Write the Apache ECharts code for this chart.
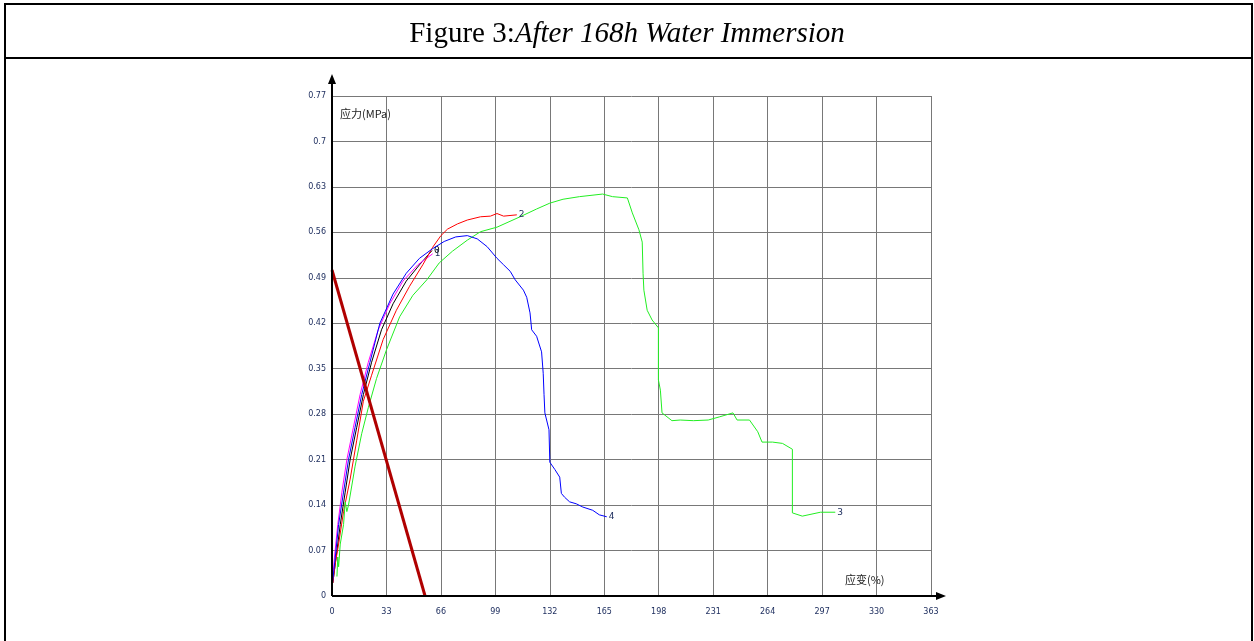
<!DOCTYPE html>
<html><head><meta charset="utf-8">
<script src="https://cdn.jsdelivr.net/npm/echarts@6/dist/echarts.min.js"></script>
<style>html,body{margin:0;padding:0;background:#fff}#c{width:1254px;height:641px}</style>
</head><body><div id="c"></div>
<script>
const xTicks = [0,33,66,99,132,165,198,231,264,297,330,363];
const yTicks = [0,0.07,0.14,0.21,0.28,0.35,0.42,0.49,0.56,0.63,0.7,0.77];
const curve0 = [[0.5,0.02],[2.5,0.06],[5,0.11],[8,0.16],[11,0.21],[15,0.26],[19,0.31],[24,0.36],[30,0.41],[37,0.45],[45,0.485],[53,0.51],[60.6,0.532]];
const curve1 = [[0.2,0.02],[1.5,0.06],[3.5,0.11],[6,0.16],[9,0.21],[13,0.26],[17,0.31],[22,0.36],[28,0.41],[35,0.45],[43,0.485],[52,0.51],[61,0.527]];
const curve2 = [[0.5,0.02],[2,0.05],[4,0.08],[7,0.13],[11,0.18],[15,0.24],[19,0.30],[24,0.34],[31,0.395],[39,0.44],[47,0.477],[55,0.51],[61,0.537],[66,0.555],[70,0.565],[76,0.573],[82,0.579],[90,0.584],[96,0.585],[100,0.589],[104,0.585],[112,0.587]];
const curve3 = [[3,0.03],[3.5,0.06],[4,0.045],[5,0.08],[7,0.11],[8,0.145],[9,0.13],[10,0.14],[14,0.2],[18,0.25],[22,0.29],[27,0.335],[33,0.379],[41,0.43],[49,0.463],[57.5,0.487],[65,0.513],[73,0.531],[82,0.548],[90,0.561],[100,0.568],[114,0.584],[124,0.596],[132,0.605],[140,0.611],[150,0.615],[164,0.619],[170,0.615],[179,0.613],[182,0.59],[186,0.564],[188,0.545],[188.5,0.497],[189,0.471],[191,0.44],[194,0.425],[197.8,0.413],[197.8,0.333],[199,0.317],[200,0.282],[206,0.27],[211,0.271],[219,0.27],[228,0.271],[235,0.276],[243,0.282],[245.5,0.271],[253,0.271],[258,0.253],[260.6,0.237],[267,0.237],[273,0.235],[279,0.226],[279,0.128],[285,0.123],[296,0.129],[305,0.129]];
const curve4 = [[0.3,0.02],[2,0.06],[4,0.11],[7,0.16],[10,0.21],[14,0.26],[18,0.31],[23,0.36],[29,0.42],[37,0.465],[45,0.497],[53,0.52],[61,0.535],[68,0.546],[75,0.553],[82,0.555],[88,0.55],[94,0.538],[100,0.52],[104,0.51],[108,0.5],[111,0.487],[116,0.471],[118,0.46],[120,0.436],[121,0.41],[124,0.4],[127,0.376],[128,0.343],[128.5,0.31],[129,0.282],[131.5,0.256],[132,0.206],[135,0.195],[138,0.183],[139,0.158],[141,0.152],[144,0.145],[148,0.142],[152,0.137],[158,0.132],[162,0.125],[166.5,0.122]];
const redLine = [[0,0.502],[56.4,0]];

const chart = echarts.init(document.getElementById('c'), null, {renderer:'canvas'});
function curve(name, data, color, z, lblColor){
  return {name, type:'line', data, showSymbol:false, symbol:'none', z,
    lineStyle:{color, width:1}, animation:false,
    endLabel:{show:true, formatter:name, fontSize:9, color:lblColor||'#203060', distance:2, fontFamily:'DejaVu Sans'}};
}
const option = {
  animation:false,
  title:{text:'{a|Figure 3:}{b|After 168h Water Immersion}', left:'center', top:15,
    textStyle:{fontWeight:'normal', rich:{a:{fontFamily:'Liberation Serif', fontSize:29, fontWeight:'normal', color:'#000'},
                      b:{fontFamily:'Liberation Serif', fontSize:29, fontWeight:'normal', fontStyle:'italic', color:'#000'}}}},
  grid:{left:332, right:323, top:96, bottom:45, containLabel:false},
  xAxis:{type:'value', min:0, max:363, interval:33,
    axisLine:{show:false}, axisTick:{show:false},
    axisLabel:{fontSize:8, color:'#203060', margin:12, fontFamily:'DejaVu Sans', showMaxLabel:true},
    splitLine:{show:true, lineStyle:{color:'#787878', width:1}}},
  yAxis:{type:'value', min:0, max:0.77, interval:0.07,
    axisLine:{show:false}, axisTick:{show:false},
    axisLabel:{fontSize:8, color:'#203060', margin:6, fontFamily:'DejaVu Sans', showMaxLabel:true,
      formatter:v=>String(parseFloat(v.toFixed(2)))},
    splitLine:{show:true, lineStyle:{color:'#787878', width:1}}},
  series:[
    curve('0', curve0, '#000000', 3, '#000'),
    curve('1', curve1, '#ff00ff', 4),
    curve('2', curve2, '#ff0000', 5),
    curve('3', curve3, '#22ee22', 5),
    curve('4', curve4, '#0000ff', 6),
    {name:'line', type:'line', data:redLine, showSymbol:false, symbol:'none', z:7, animation:false,
      lineStyle:{color:'#b00000', width:3}}
  ]
};
chart.setOption(option);
const o = chart.convertToPixel({gridIndex:0},[0,0]);
const e = chart.convertToPixel({gridIndex:0},[363,0.77]);
chart.setOption({graphic:[
  {type:'rect', shape:{x:5,y:4,width:1247,height:700}, style:{fill:null, stroke:'#000', lineWidth:2}, z:100},
  {type:'line', shape:{x1:5,y1:58,x2:1252,y2:58}, style:{stroke:'#000', lineWidth:2}, z:100},
  {type:'line', shape:{x1:o[0],y1:o[1],x2:o[0],y2:e[1]-14}, style:{stroke:'#000', lineWidth:2}, z:100},
  {type:'polygon', shape:{points:[[o[0]-4,e[1]-12],[o[0]+4,e[1]-12],[o[0],e[1]-22]]}, style:{fill:'#000'}, z:100},
  {type:'line', shape:{x1:o[0],y1:o[1],x2:e[0]+6,y2:o[1]}, style:{stroke:'#000', lineWidth:2}, z:100},
  {type:'polygon', shape:{points:[[e[0]+5,o[1]-4],[e[0]+5,o[1]+4],[e[0]+15,o[1]]]}, style:{fill:'#000'}, z:100},
  {type:'text', x:o[0]+8, y:e[1]+12, style:{text:'应力(MPa)', fontSize:11, fill:'#222', fontFamily:'Noto Sans CJK SC'}, z:100},
  {type:'text', x:e[0]-86, y:o[1]-22, style:{text:'应变(%)', fontSize:11, fill:'#222', fontFamily:'Noto Sans CJK SC'}, z:100}
]});
</script></body></html>
